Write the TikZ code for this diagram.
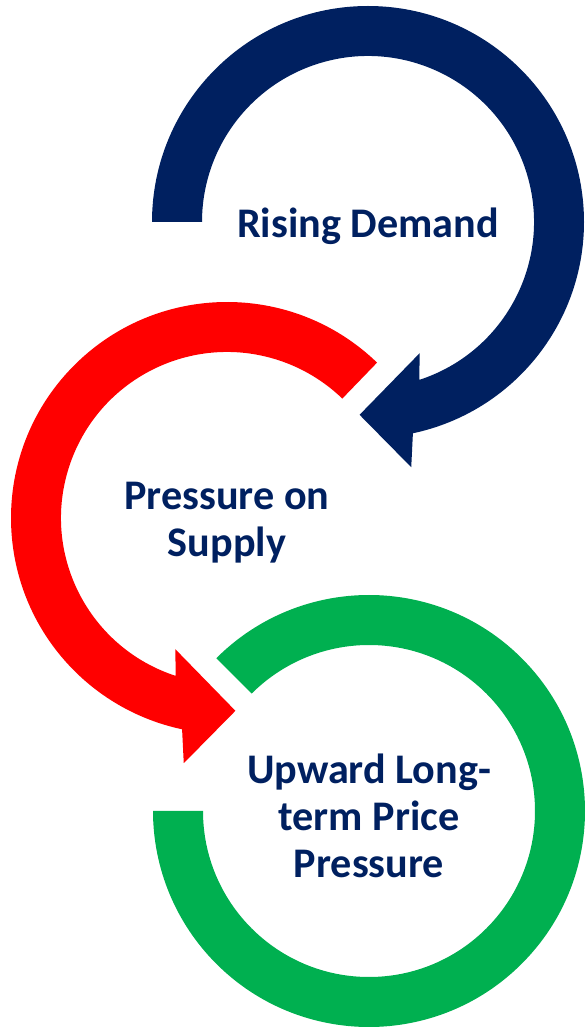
\documentclass[tikz,border=0pt]{standalone}
\usepackage{fontspec}
\setmainfont{Carlito}
\usetikzlibrary{positioning}
\definecolor{navy}{HTML}{002060}
\definecolor{hotred}{HTML}{FF0000}
\definecolor{leafgreen}{HTML}{00B050}

\begin{document}
\begin{tikzpicture}[x=0.02cm, y=0.02cm,
    label/.style={font=\bfseries\fontsize{24}{26.8}\selectfont, text=navy, align=center}]
        \useasboundingbox (0,0) rectangle (586,1029);

        \coordinate (cdem) at (368, 807);
        \coordinate (csup) at (227, 511);
        \coordinate (cprice) at (369, 218);

        \node[label] at ([yshift=-0.08cm]cdem)(demand){Rising Demand};
        \node[label] at ([yshift=-0.1cm]csup)(supply){Pressure on\\Supply};
        \node[label] at ([yshift=-0.1cm]cprice)(price){Upward Long-\\term Price\\Pressure};

        % top loop, clockwise
        \begin{scope}[shift={(cdem)}]
            \fill[navy] (180:216) arc[start angle=180, end angle=-78, radius=216]
                -- (-80:249) -- (-92.5:193) -- (-68.5:141) -- (-72:166)
                arc[start angle=-72, end angle=180, radius=166] -- cycle;
        \end{scope}

        % middle loop, counter-clockwise
        \begin{scope}[shift={(csup)}]
            \fill[hotred] (46:216) arc[start angle=46, end angle=258, radius=216]
                -- (260:249) -- (272.5:193) -- (248.5:141) -- (252:166)
                arc[start angle=252, end angle=46, radius=166] -- cycle;
        \end{scope}

        % bottom ring
        \begin{scope}[shift={(cprice)}]
            \fill[leafgreen] (135:216) arc[start angle=135, end angle=-180, radius=216]
                -- (180:166) arc[start angle=180, end angle=495, radius=166] -- cycle;
        \end{scope}
    \end{tikzpicture}
\end{document}
